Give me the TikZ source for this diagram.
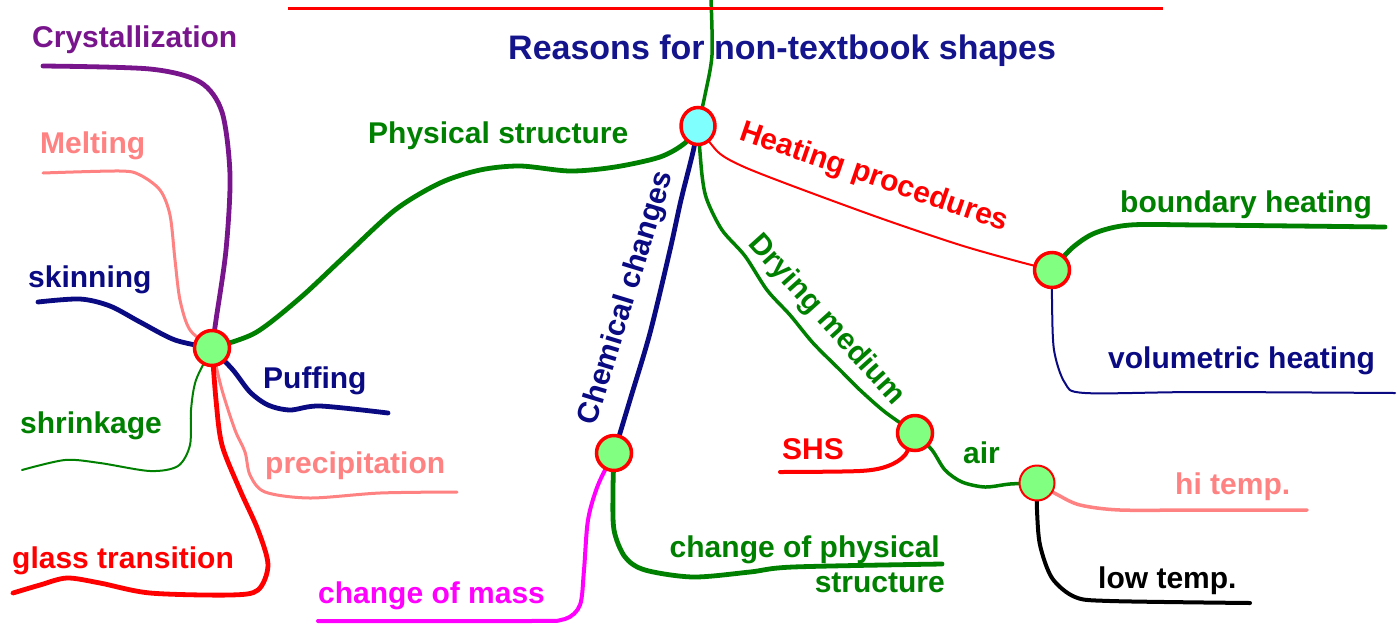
\documentclass[tikz,border=0pt]{standalone}
\usepackage{fontspec}
\setmainfont{Liberation Sans}
\usepackage{tikz}
\usetikzlibrary{shapes.geometric, backgrounds}
\definecolor{mmpurple}{RGB}{120,20,140}
\definecolor{mmsalmon}{RGB}{255,130,130}
\definecolor{mmnavy}{RGB}{10,10,130}
\definecolor{mmgreen}{RGB}{0,128,0}
\definecolor{mmred}{RGB}{255,0,0}
\definecolor{mmmagenta}{RGB}{255,0,255}
\definecolor{mmleaf}{RGB}{128,255,128}
\definecolor{mmcyan}{RGB}{128,255,255}
\definecolor{mmtitle}{RGB}{20,20,140}
\tikzset{
  knot/.style={circle, draw=mmred, fill=mmleaf, minimum size=35pt, inner sep=0pt, line width=3.5pt},
  hub/.style={ellipse, draw=mmred, fill=mmcyan, minimum width=34pt, minimum height=37pt, inner sep=0pt, line width=3.5pt},
  lbl/.style={inner sep=0pt, anchor=base west, font=\fontsize{30}{32}\selectfont\bfseries},
  bough/.style={line width=4.8pt, line cap=round, line join=round},
  twig/.style={line width=2pt, line cap=round, line join=round}
}

\begin{document}
\begin{tikzpicture}[x=1pt, y=-1pt]
  \useasboundingbox (0,0) rectangle (1397,625);

  % Knots of the map
  \node[hub] (hub) at (698,126) {};
  \node[knot] (phys) at (212,348) {};
  \node[knot] (heat) at (1052,270) {};
  \node[knot] (chem) at (614,453) {};
  \node[knot] (dry) at (915,433) {};
  \node[knot, line width=2pt] (air) at (1037,483) {};

  % Free ends of the branches
  \coordinate (topEnd) at (711,0);
  \coordinate (crysEnd) at (43,66);
  \coordinate (meltEnd) at (43,173);
  \coordinate (skinEnd) at (38,302);
  \coordinate (puffEnd) at (388,413);
  \coordinate (shrinkEnd) at (22,470);
  \coordinate (precEnd) at (457,492);
  \coordinate (glassEnd) at (13,593);
  \coordinate (boundEnd) at (1385,227);
  \coordinate (volEnd) at (1395,393);
  \coordinate (massEnd) at (318,621);
  \coordinate (structEnd) at (942,564);
  \coordinate (shsEnd) at (780,472);
  \coordinate (hiEnd) at (1307,510);
  \coordinate (lowEnd) at (1250,603);

  % Title
  \draw[mmred, line width=3pt] (288,8) -- (1163,8);
  \node[lbl, text=mmtitle, font=\fontsize{34}{36}\selectfont\bfseries] (title) at (508,59) {Reasons for non-textbook shapes};

  \begin{scope}[on background layer]
    \fill[white] (0,0) rectangle (1397,625);
    \draw[bough, mmgreen, line width=3.5pt] plot[smooth] coordinates {(hub) (705,95) (712,55) (topEnd)};
    % Physical structure
    \draw[bough, mmgreen] plot[smooth] coordinates {(phys) (255,333) (300,298) (345,256) (395,210) (440,183) (480,170) (520,166) (570,171) (615,167) (660,157) (685,143) (hub)};
    \draw[bough, mmpurple] plot[smooth] coordinates {(phys) (216,320) (226,250) (230,175) (222,112) (200,82) (150,69) (crysEnd)};
    \draw[twig, mmsalmon, line width=3pt] plot[smooth] coordinates {(phys) (190,330) (180,300) (175,260) (170,215) (160,190) (140,175) (120,171) (meltEnd)};
    \draw[bough, mmnavy] plot[smooth] coordinates {(phys) (175,340) (140,322) (110,306) (80,299) (skinEnd)};
    \draw[bough, mmnavy] plot[smooth] coordinates {(phys) (233,370) (250,392) (268,405) (290,410) (320,406) (puffEnd)};
    \draw[twig, mmgreen] plot[smooth] coordinates {(phys) (196,380) (191,410) (190,445) (178,466) (150,471) (100,463) (65,460) (shrinkEnd)};
    \draw[twig, mmsalmon, line width=3pt] plot[smooth] coordinates {(phys) (222,390) (235,430) (245,452) (250,475) (265,492) (310,498) (380,493) (precEnd)};
    \draw[bough, mmred] plot[smooth] coordinates {(phys) (216,400) (222,445) (240,490) (258,530) (268,565) (258,590) (230,595) (150,593) (100,583) (67,578) (40,585) (glassEnd)};
    % Heating procedures
    \draw[twig, mmred] plot[smooth] coordinates {(hub) (718,152) (742,166) (790,185) (880,218) (960,245) (1020,262) (heat)};
    \draw[bough, mmgreen] plot[smooth] coordinates {(heat) (1072,248) (1095,233) (1130,225) (1200,225) (boundEnd)};
    \draw[twig, mmnavy] plot[smooth] coordinates {(heat) (1052,300) (1054,350) (1065,383) (1085,393) (1200,392) (volEnd)};
    % Chemical changes
    \draw[bough, mmnavy] plot[smooth] coordinates {(hub) (693,152) (681,200) (670,250) (650,333) (630,400) (chem)};
    \draw[bough, mmmagenta, line width=4pt] plot[smooth] coordinates {(chem) (598,485) (588,520) (584,570) (580,605) (565,619) (530,621) (massEnd)};
    \draw[bough, mmgreen] plot[smooth] coordinates {(chem) (613,490) (614,530) (625,557) (645,570) (693,577) (750,572) (793,567) (structEnd)};
    % Drying medium
    \draw[bough, mmgreen, line width=3.5pt] plot[smooth] coordinates {(hub) (702,175) (707,200) (722,230) (745,256) (767,290) (790,315) (813,343) (840,370) (860,390) (885,412) (dry)};
    \draw[bough, mmred, line width=4pt] plot[smooth] coordinates {(dry) (905,455) (888,466) (860,471) (shsEnd)};
    \draw[bough, mmgreen, line width=3.5pt] plot[smooth] coordinates {(dry) (932,450) (945,470) (962,482) (985,487) (1010,484) (air)};
    \draw[bough, mmsalmon, line width=3.5pt] plot[smooth] coordinates {(air) (1058,495) (1080,505) (1120,510) (1200,510) (hiEnd)};
    \draw[bough, black, line width=4pt] plot[smooth] coordinates {(air) (1037,510) (1040,545) (1052,578) (1075,597) (1110,601) (lowEnd)};
  \end{scope}

  % Labels
  \node[lbl, text=mmgreen] (physLbl) at (368,143) {Physical structure};
  \node[lbl, text=mmpurple] (crysLbl) at (32,47) {Crystallization};
  \node[lbl, text=mmsalmon] (meltLbl) at (40,153) {Melting};
  \node[lbl, text=mmnavy] (skinLbl) at (28,287) {skinning};
  \node[lbl, text=mmnavy] (puffLbl) at (263,388) {Puffing};
  \node[lbl, text=mmgreen] (shrinkLbl) at (20,433) {shrinkage};
  \node[lbl, text=mmsalmon] (precLbl) at (265,473) {precipitation};
  \node[lbl, text=mmred] (glassLbl) at (12,568) {glass transition};
  \node[lbl, text=mmred, anchor=center, rotate=-19] (heatLbl) at (874,178) {Heating procedures};
  \node[lbl, text=mmgreen] (boundLbl) at (1120,212) {boundary heating};
  \node[lbl, text=mmnavy] (volLbl) at (1108,368) {volumetric heating};
  \node[lbl, text=mmnavy, anchor=center, rotate=73] (chemLbl) at (627,298) {Chemical changes};
  \node[lbl, text=mmmagenta] (massLbl) at (318,603) {change of mass};
  \node[lbl, text=mmgreen, anchor=base east] (structLbl) at (940,557) {change of physical};
  \node[lbl, text=mmgreen, anchor=base east] (structLblB) at (945,592) {structure};
  \node[lbl, text=mmgreen, anchor=center, rotate=-48] (dryLbl) at (826,320) {Drying medium};
  \node[lbl, text=mmred] (shsLbl) at (782,459) {SHS};
  \node[lbl, text=mmgreen] (airLbl) at (963,463) {air};
  \node[lbl, text=mmsalmon] (hiLbl) at (1175,494) {hi temp.};
  \node[lbl, text=black] (lowLbl) at (1098,588) {low temp.};
\end{tikzpicture}
\end{document}
